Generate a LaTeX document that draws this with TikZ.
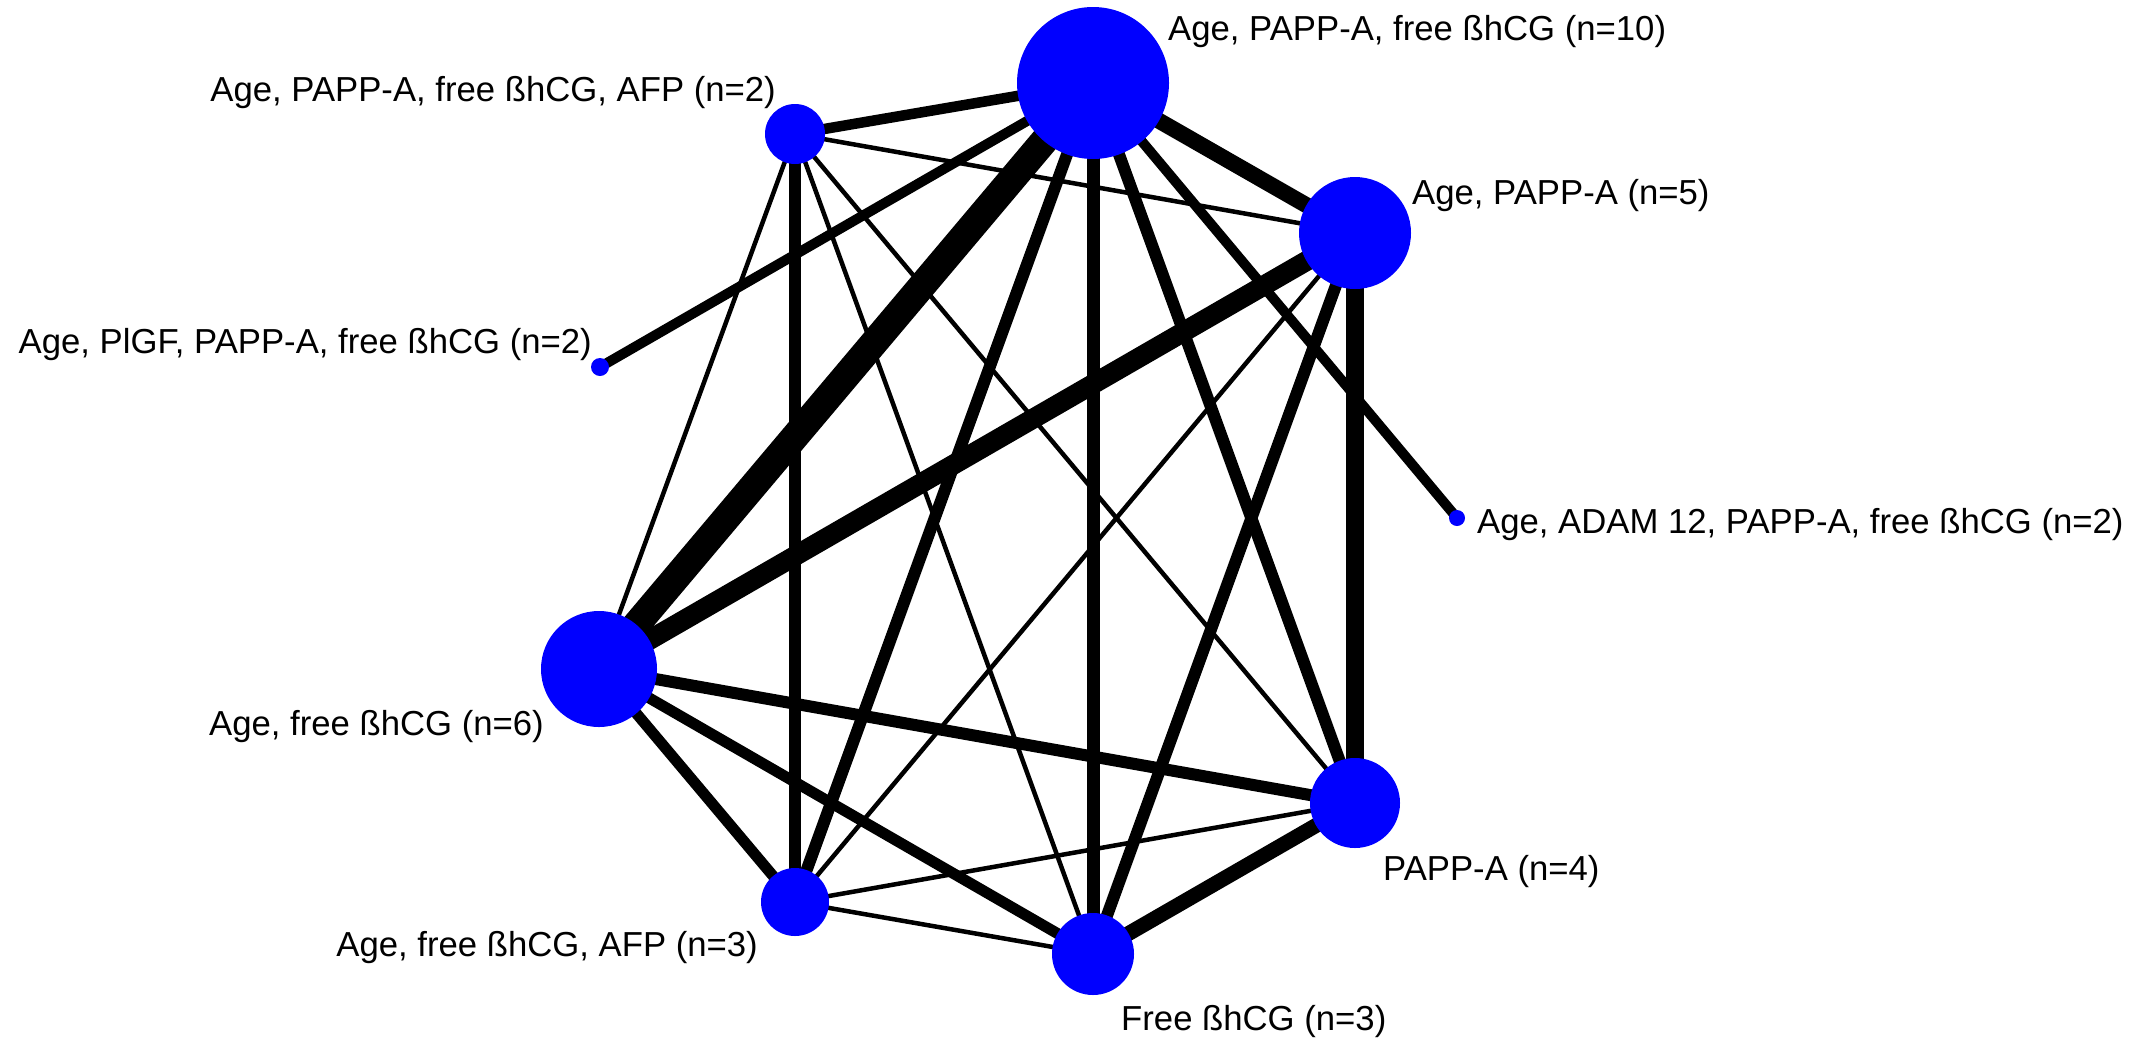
\documentclass[tikz,border=0pt]{standalone}
\usepackage{fontspec}
\setmainfont{Liberation Sans}
\usetikzlibrary{backgrounds}
\definecolor{nodeblue}{RGB}{0,0,255}
\newcommand{\netlabelfont}{\fontsize{34.7}{40}\selectfont}
\begin{document}
\begin{tikzpicture}[x=1pt,y=-1pt,
  study/.style={circle, fill=nodeblue, draw=none, inner sep=0pt, minimum size=#1},
  link/.style={draw=black, line width=#1},
  thinlink/.style={draw=black, line width=4.5pt},
  lbl/.style={font=\netlabelfont, text=black, inner sep=0pt}]
\useasboundingbox (0,0) rectangle (2147,1037);

% treatment nodes (area ~ number of studies)
\node[study=152pt] (A) at (1093,83)  {};
\node[study=60pt]  (B) at (795,134)  {};
\node[study=112pt] (C) at (1355,233) {};
\node[study=18pt]  (D) at (600,367)  {};
\node[study=16pt]  (E) at (1457,518) {};
\node[study=116pt] (F) at (599,669)  {};
\node[study=90pt]  (G) at (1355,803) {};
\node[study=68pt]  (H) at (795,902)  {};
\node[study=82pt]  (I) at (1093,954) {};

% direct comparisons (width ~ number of studies)
\begin{pgfonlayer}{background}
\draw[link=10.5pt] (A.center) -- (B.center);
\draw[link=16pt]   (A.center) -- (C.center);
\draw[link=10pt]   (A.center) -- (D.center);
\draw[link=10pt]   (A.center) -- (E.center);
\draw[link=28pt]   (A.center) -- (F.center);
\draw[link=12pt]   (A.center) -- (G.center);
\draw[link=12pt]   (A.center) -- (H.center);
\draw[link=13pt]   (A.center) -- (I.center);
\draw[thinlink]    (B.center) -- (C.center);
\draw[thinlink]    (B.center) -- (F.center);
\draw[thinlink]    (B.center) -- (G.center);
\draw[link=12.5pt] (B.center) -- (H.center);
\draw[thinlink]    (B.center) -- (I.center);
\draw[link=20pt]   (C.center) -- (F.center);
\draw[link=18.5pt] (C.center) -- (G.center);
\draw[thinlink]    (C.center) -- (H.center);
\draw[link=12pt]   (C.center) -- (I.center);
\draw[link=12pt]   (F.center) -- (G.center);
\draw[link=11pt]   (F.center) -- (H.center);
\draw[link=11pt]   (F.center) -- (I.center);
\draw[thinlink]    (G.center) -- (H.center);
\draw[link=15pt]   (G.center) -- (I.center);
\draw[thinlink]    (H.center) -- (I.center);
\end{pgfonlayer}

% treatment labels
\node[lbl, anchor=base west] (lA) at (1168,40)  {Age, PAPP-A, free ßhCG (n=10)};
\node[lbl, anchor=base east] (lB) at (776,101)  {Age, PAPP-A, free ßhCG, AFP (n=2)};
\node[lbl, anchor=base west] (lC) at (1412,204) {Age, PAPP-A (n=5)};
\node[lbl, anchor=base east] (lD) at (592,353)  {Age, PlGF, PAPP-A, free ßhCG (n=2)};
\node[lbl, anchor=base west] (lE) at (1477,533) {Age, ADAM 12, PAPP-A, free ßhCG (n=2)};
\node[lbl, anchor=base east] (lF) at (544,735)  {Age, free ßhCG (n=6)};
\node[lbl, anchor=base west] (lG) at (1383,880) {PAPP-A (n=4)};
\node[lbl, anchor=base east] (lH) at (758,956)  {Age, free ßhCG, AFP (n=3)};
\node[lbl, anchor=base west] (lI) at (1121,1030) {Free ßhCG (n=3)};
\end{tikzpicture}
\end{document}
